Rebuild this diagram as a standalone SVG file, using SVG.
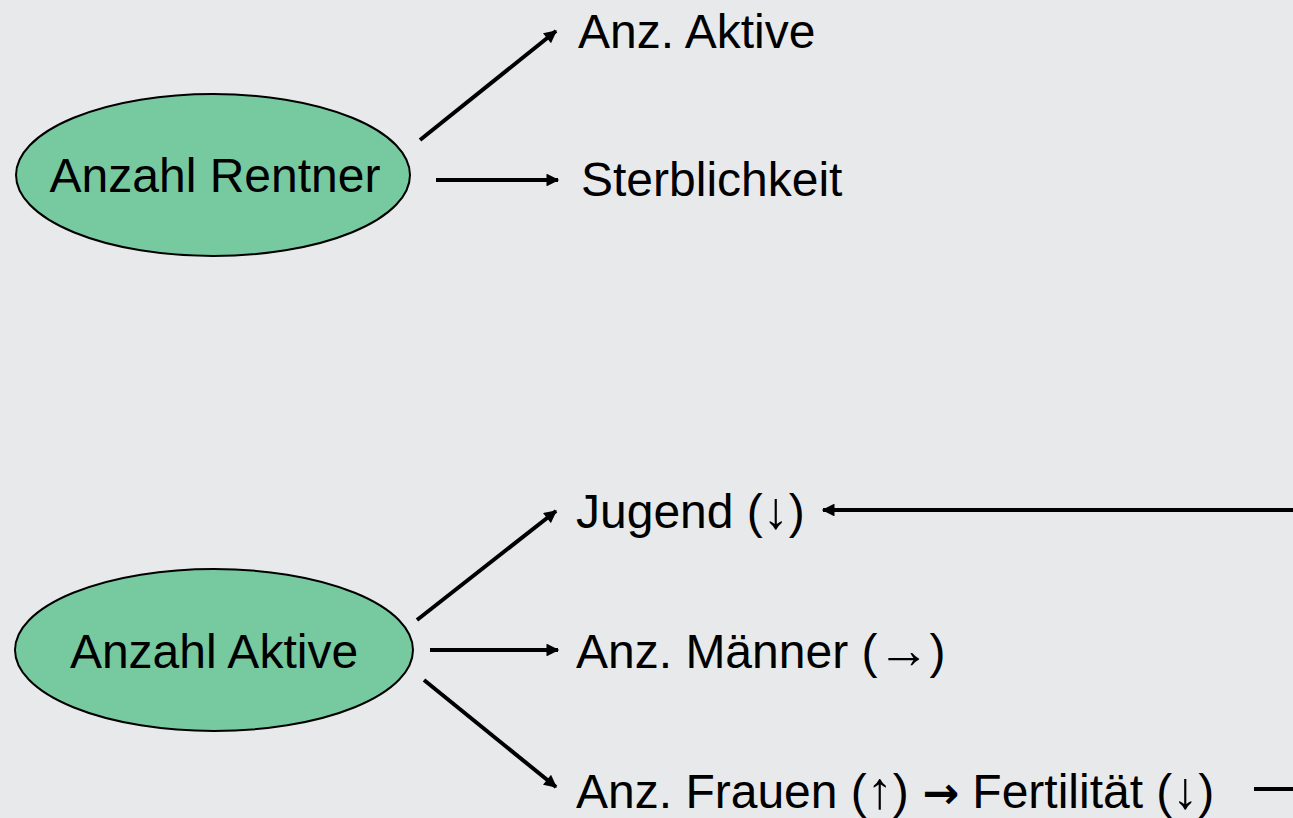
<svg xmlns="http://www.w3.org/2000/svg" width="1293" height="818" viewBox="0 0 1293 818">
<style>
text{font-family:"Liberation Sans",Arial,sans-serif;font-size:48px;fill:#000}
.ar{font-family:"DejaVu Sans",sans-serif;font-size:44px;font-weight:bold}
.sa{font-size:52px}
.node ellipse{fill:#77C9A0;stroke:#000;stroke-width:2}
.c line{stroke:#000;stroke-width:4}
</style>
<defs>
<marker id="ah" viewBox="0 0 10 10" refX="9" refY="5" markerWidth="3.6" markerHeight="3.2" orient="auto" markerUnits="strokeWidth">
<path d="M0,0 L10,5 L0,10 z" fill="#000"/>
</marker>
</defs>
<rect width="1293" height="818" fill="#E8E9EB"/>
<g id="rentner" class="node">
<ellipse cx="213" cy="175" rx="197" ry="81"/>
<text x="215" y="192" text-anchor="middle">Anzahl Rentner</text>
</g>
<g id="aktive" class="node">
<ellipse cx="214" cy="650" rx="199" ry="81"/>
<text x="214" y="668" text-anchor="middle">Anzahl Aktive</text>
</g>
<g id="anz-aktive"><text x="578" y="48">Anz. Aktive</text></g>
<g id="sterblichkeit"><text x="581" y="196">Sterblichkeit</text></g>
<g id="jugend"><text x="576" y="528">Jugend (<tspan class="sa">↓</tspan>)</text></g>
<g id="maenner"><text x="576" y="668">Anz. Männer (<tspan class="sa">→</tspan>)</text></g>
<g id="frauen"><text x="576" y="808">Anz. Frauen (<tspan class="sa">↑</tspan>) <tspan class="ar">→</tspan> Fertilität (<tspan class="sa">↓</tspan>)</text></g>
<g id="connectors" class="c">
<line x1="420" y1="140" x2="556" y2="31" marker-end="url(#ah)"/>
<line x1="436" y1="180" x2="558" y2="180" marker-end="url(#ah)"/>
<line x1="417" y1="620" x2="556" y2="511" marker-end="url(#ah)"/>
<line x1="430" y1="650" x2="558" y2="650" marker-end="url(#ah)"/>
<line x1="424" y1="680" x2="556" y2="787" marker-end="url(#ah)"/>
<line x1="1293" y1="510" x2="823" y2="510" marker-end="url(#ah)"/>
<line x1="1254" y1="789" x2="1293" y2="789"/>
</g>
</svg>
